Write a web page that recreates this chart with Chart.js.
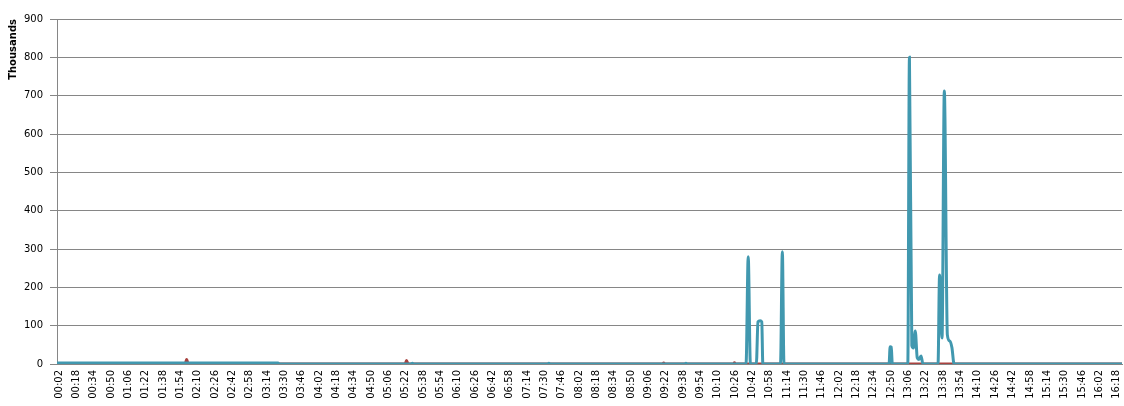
<!DOCTYPE html>
<html><head><meta charset="utf-8">
<script src="https://cdn.jsdelivr.net/npm/chart.js@4/dist/chart.umd.min.js"></script>
<style>html,body{margin:0;padding:0;background:#fff;} #wrap{width:1124px;height:406px;position:relative;}</style>
</head><body><div id="wrap"><canvas id="c" width="1124" height="406"></canvas></div>
<script>
const tickLabels = ['00:02','00:18','00:34','00:50','01:06','01:22','01:38','01:54','02:10','02:26','02:42','02:58','03:14','03:30','03:46','04:02','04:18','04:34','04:50','05:06','05:22','05:38','05:54','06:10','06:26','06:42','06:58','07:14','07:30','07:46','08:02','08:18','08:34','08:50','09:06','09:22','09:38','09:54','10:10','10:26','10:42','10:58','11:14','11:30','11:46','12:02','12:18','12:34','12:50','13:06','13:22','13:38','13:54','14:10','14:26','14:42','14:58','15:14','15:30','15:46','16:02','16:18'];
const yTicks = [0,100,200,300,400,500,600,700,800,900];

// minutes since midnight / values in thousands
const tealMinutes = [0,204,205.5, 327,328,329, 453,454,455, 579.5,580.5,581.5, 636,638,640, 645.5,647,649,650.5,651.5, 667.8,669.5,671, 768,769,770,771, 785.3,786.8,789,790.5,792.2,794,795.5,797.5,799.3, 813.2,814.6,816.9,819,821.8,824,826,828, 983];
const tealValues  = [2.5,2.5,0, 0,1.8,0, 0,1.8,0, 0,1.8,0, 0,280,0, 0,110,113,110,0, 0,293,0, 0,45,44,0, 0,800,48,42,86,16,12,21,0, 0,232,68,712,76,60,43,0, 0];

const redMinutes = [0,118.3,119.7,121, 321.3,322.6,324, 559,560,561, 624.3,625.3,626.3, 983];
const redValues  = [0,0,12,0, 0,9,0, 0,2.5,0, 0,3,0, 0];

const toMin = s => { const p = s.split(':').map(Number); return p[0]*60 + p[1]; };
const tickMinutes = tickLabels.map(toMin);
const pts = (xs, ys) => xs.map((x, i) => ({x: x, y: ys[i]}));
const FONT = 'DejaVu Sans';

new Chart(document.getElementById('c').getContext('2d'), {
  type: 'line',
  data: {
    datasets: [
      {label: 'Series 1', data: pts(tealMinutes, tealValues), borderColor: '#4198AF', backgroundColor: '#4198AF', borderWidth: 3, pointRadius: 0, cubicInterpolationMode: 'monotone', order: 0},
      {label: 'Series 2', data: pts(redMinutes, redValues), borderColor: '#A8423F', backgroundColor: '#A8423F', borderWidth: 3, pointRadius: 0, cubicInterpolationMode: 'monotone', order: 1}
    ]
  },
  options: {
    responsive: false,
    animation: false,
    layout: {padding: {top: 19, right: 2, left: 0, bottom: 0}},
    plugins: {legend: {display: false}, tooltip: {enabled: false}},
    scales: {
      x: {
        type: 'linear', min: 0, max: 983,
        afterBuildTicks: s => { s.ticks = tickMinutes.map(v => ({value: v})); },
        afterFit: s => { s.height = 42; s.paddingLeft = 0; s.paddingRight = 0; },
        grid: {display: false, drawTicks: false},
        border: {display: true, color: '#868686', width: 1, z: 1},
        ticks: {autoSkip: false, minRotation: 90, maxRotation: 90, padding: 6, color: '#000',
                font: {family: FONT, size: 10}, callback: (v, i) => tickLabels[i]}
      },
      y: {
        min: 0, max: 900,
        afterBuildTicks: s => { s.ticks = yTicks.map(v => ({value: v})); },
        afterFit: s => { s.width = 57; s.paddingTop = 0; s.paddingBottom = 0; },
        grid: {color: '#868686', lineWidth: 1, drawTicks: true, tickLength: 7, tickColor: '#868686'},
        border: {display: true, color: '#868686'},
        ticks: {padding: 7, color: '#000', font: {family: FONT, size: 10}, callback: (v, i) => String(yTicks[i])},
        title: {display: true, text: 'Thousands', align: 'end', color: '#000',
                font: {family: FONT, size: 10, weight: 'bold'}, padding: {top: 7.5, bottom: 0}}
      }
    }
  }
});
</script></body></html>
